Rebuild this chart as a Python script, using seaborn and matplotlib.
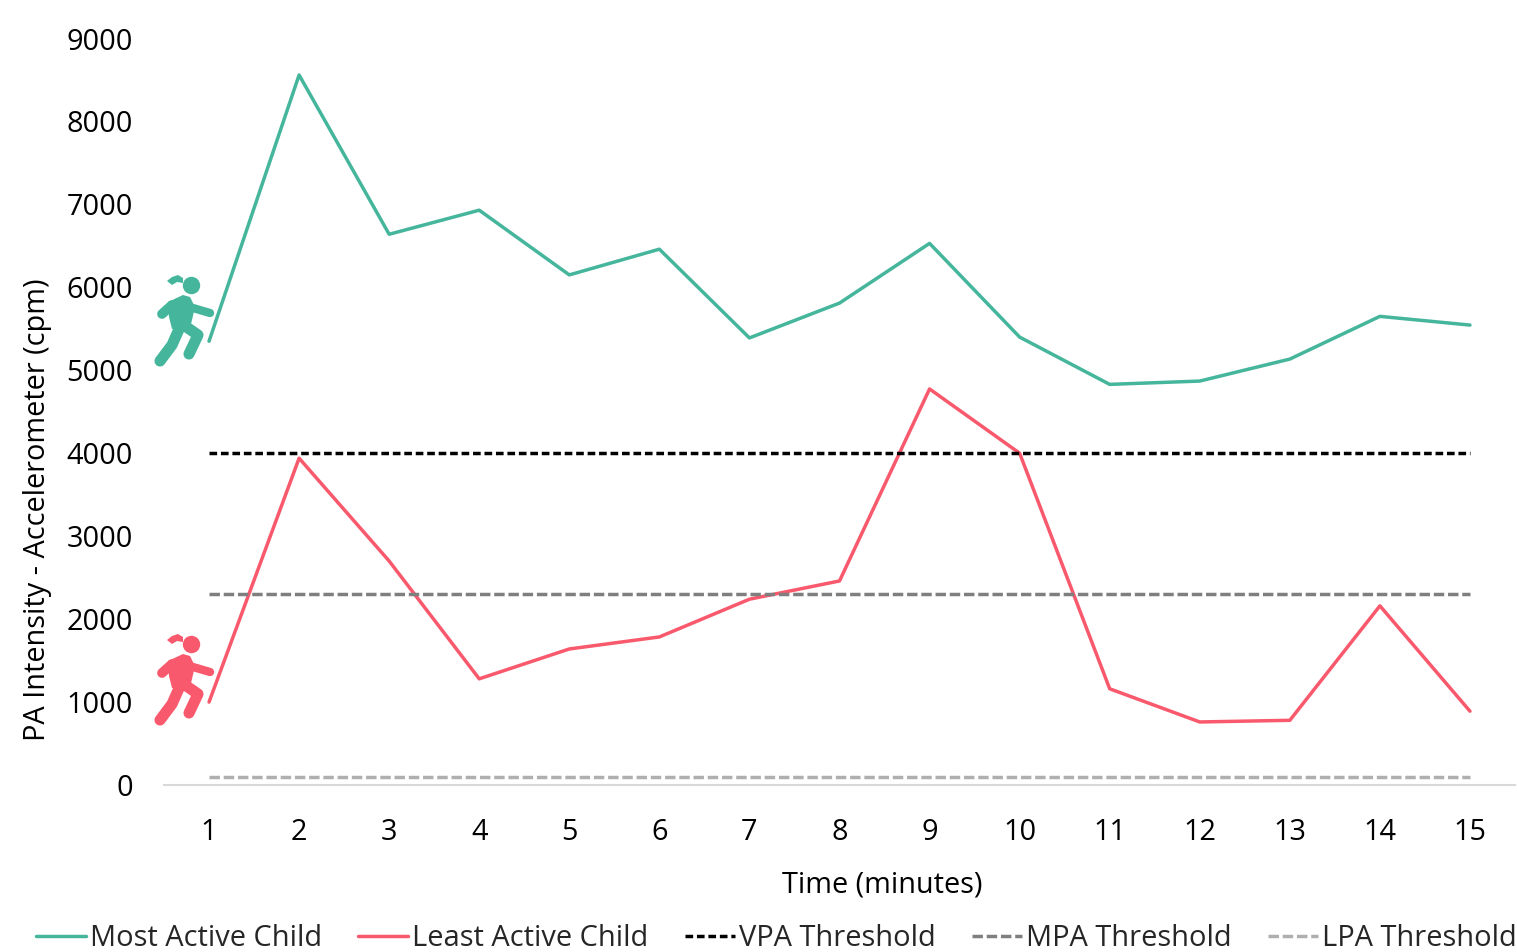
import pandas as pd
import matplotlib.pyplot as plt
import seaborn as sns
from matplotlib.lines import Line2D
from matplotlib.patches import Circle, Polygon
from matplotlib.transforms import Affine2D

minutes = list(range(1, 16))
most_active = [5350, 8560, 6640, 6930, 6150, 6460, 5390, 5810, 6530, 5400, 4830, 4870, 5135, 5650, 5545]
least_active = [1000, 3940, 2700, 1280, 1640, 1785, 2240, 2460, 4775, 4000, 1160, 760, 780, 2160, 890]
vpa = [4000] * 15
mpa = [2300] * 15
lpa = [100] * 15
y_ticks = [0, 1000, 2000, 3000, 4000, 5000, 6000, 7000, 8000, 9000]

GREEN = '#45B69C'
RED = '#F9596C'

series = {
    'Most Active Child': most_active,
    'Least Active Child': least_active,
    'VPA Threshold': vpa,
    'MPA Threshold': mpa,
    'LPA Threshold': lpa,
}
df = pd.DataFrame([
    {'minute': m, 'series': name, 'value': v}
    for name, vals in series.items()
    for m, v in zip(minutes, vals)
])

sns.set_style('white')
plt.rcParams['font.family'] = ['Open Sans', 'DejaVu Sans']

fig = plt.figure(figsize=(15.17, 9.52), dpi=100)
ax = fig.add_axes([164 / 1517, (952 - 785) / 952, (1515 - 164) / 1517, (785 - 38.5) / 952])

palette = {'Most Active Child': GREEN, 'Least Active Child': RED, 'VPA Threshold': '#000000',
           'MPA Threshold': '#7F7F7F', 'LPA Threshold': '#AFAFAF'}
dashes = {'Most Active Child': '', 'Least Active Child': '', 'VPA Threshold': (2.2, 1.1),
          'MPA Threshold': (3, 1.1), 'LPA Threshold': (3, 1.1)}
sns.lineplot(data=df, x='minute', y='value', hue='series', style='series', palette=palette,
             dashes=dashes, linewidth=2.5, ax=ax, legend=False, errorbar=None, sort=False)

ax.set_xlim(0.5, 15.5)
ax.set_ylim(0, 9000)
ax.set_xticks(minutes)
ax.set_yticks(y_ticks)
ax.tick_params(axis='both', length=0, labelsize=20.8, labelcolor='black')
ax.tick_params(axis='x', pad=24)
ax.tick_params(axis='y', pad=22.5)
ax.set_xlabel('Time (minutes)', fontsize=20.8, color='black')
ax.xaxis.set_label_coords((882 - 164) / (1515 - 164), -(885 - 785) / (785 - 38.5), transform=ax.transAxes)
ax.xaxis.label.set_va('center')
ax.set_ylabel('')
fig.text(38 / 1517, 1 - 510 / 952, 'PA Intensity - Accelerometer (cpm)', rotation=90,
         fontsize=20.8, color='black', ha='center', va='center')

sns.despine(ax=ax, left=True)
ax.spines['bottom'].set_color('#D9D9D9')
ax.spines['bottom'].set_linewidth(1.5)

handles = [Line2D([0], [0], color=palette[n], lw=2.5,
                  dashes=dashes[n] if dashes[n] else (None, None)) for n in series]
fig.legend(handles, list(series), ncol=5, frameon=False, fontsize=20.9,
           loc='center left', bbox_to_anchor=(36 / 1517, 1 - 939 / 952), borderaxespad=0, borderpad=0,
           handlelength=1.72, handletextpad=0.14, columnspacing=1.25)


def runner(dy, color):
    # little running girl, drawn in picture pixels
    tr = Affine2D().translate(0, dy).scale(1, -1).translate(0, 952)
    art = [Circle((191.5, 285.5), 8.7, color=color, lw=0, transform=tr),
           Polygon([(167, 281), (172, 277), (178, 275), (183, 278), (183, 283), (177, 282), (172, 285)],
                   closed=True, color=color, lw=0, transform=tr),
           Polygon([(168, 302), (183, 295), (190, 297), (195, 307), (192, 320), (190, 328), (172, 329), (169, 317)],
                   closed=True, color=color, lw=0, transform=tr)]
    limbs = [([172, 162], [305, 314], 7), ([193, 210], [308, 313], 6),
             ([180, 172, 160], [327, 345, 361], 8), ([185, 198, 189], [326, 335, 354], 8)]
    for xs, ys, lw in limbs:
        art.append(Line2D(xs, ys, color=color, lw=lw, solid_capstyle='round', solid_joinstyle='round',
                          transform=tr))
    for a in art:
        fig.add_artist(a)


runner(0, GREEN)
runner(359, RED)

plt.savefig('out.png', dpi=100)
